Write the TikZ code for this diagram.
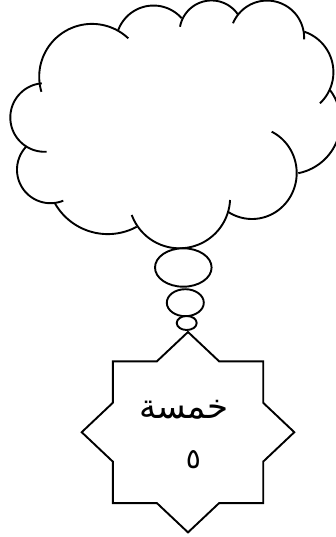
\documentclass[tikz,border=0pt]{standalone}
\usepackage{fontspec}
\newfontfamily\arabicfont[Script=Arabic]{DejaVu Sans}
\TeXXeTstate=1
\tikzset{
  ln/.style={line width=1.9pt, black, line join=miter},
  bub/.style={ln, fill=white},
  lbl/.style={inner sep=0pt, anchor=base}
}
\newcommand\cloudarc[5]{\draw[ln] plot[domain=#4:#5, samples=60, smooth] ({#1+#3*cos(\x)},{#2+#3*sin(\x)});}
\begin{document}
\begin{tikzpicture}[x=1pt,y=-1pt]
\useasboundingbox (0,0) rectangle (336,537);
\clip (0,0) rectangle (336,537);
% cloud arcs
\cloudarc{92}{76.7}{52.8}{163.4}{313.4}
\cloudarc{153.5}{43.15}{37.6}{200.5}{318.6}
\cloudarc{211.5}{32.5}{32}{190.4}{326.9}
\cloudarc{267.1}{37.6}{37}{202.8}{362.6}
\cloudarc{290.7}{72.2}{42.7}{-71.4}{46.7}
\cloudarc{288.1}{121.7}{52.5}{-37.1}{78.8}
\draw[ln] plot[domain=-63.9:122, samples=60, smooth] ({252+44.7*cos(\x)},{173+46*sin(\x)});
\cloudarc{179.4}{197.6}{50.7}{2.7}{160}
\cloudarc{107.8}{173.3}{60.8}{61.6}{150.4}
\cloudarc{50.5}{169.7}{33.5}{67.6}{224.9}
\cloudarc{44.6}{117.5}{34.3}{86.5}{265.2}
% thought bubbles
\draw[bub] (183.3,267.5) ellipse [x radius=28.3, y radius=19.2];
\draw[bub] (185.3,302.7) ellipse [x radius=18.5, y radius=13.5];
\draw[bub] (186.7,323) ellipse [x radius=10, y radius=7];
% star
\begin{scope}[shift={(188,432.2)}]
\draw[ln, fill=white] (0,-100.2) -- (31.1,-70.9) -- (75.2,-70.9) -- (75.2,-29.4) -- (106.3,0)
  -- (75.2,29.4) -- (75.2,70.9) -- (31.1,70.9) -- (0,100.2) -- (-31.1,70.9)
  -- (-75.2,70.9) -- (-75.2,29.4) -- (-106.3,0) -- (-75.2,-29.4) -- (-75.2,-70.9)
  -- (-31.1,-70.9) -- cycle;
\end{scope}
\node[lbl, font=\arabicfont\fontsize{34}{36}\selectfont] (word) at (184,418) {\beginR خمسة\endR};
\node[lbl, font=\arabicfont\fontsize{28}{30}\selectfont] (digit) at (193.3,468) {\beginR ٥\endR};
\end{tikzpicture}
\end{document}
